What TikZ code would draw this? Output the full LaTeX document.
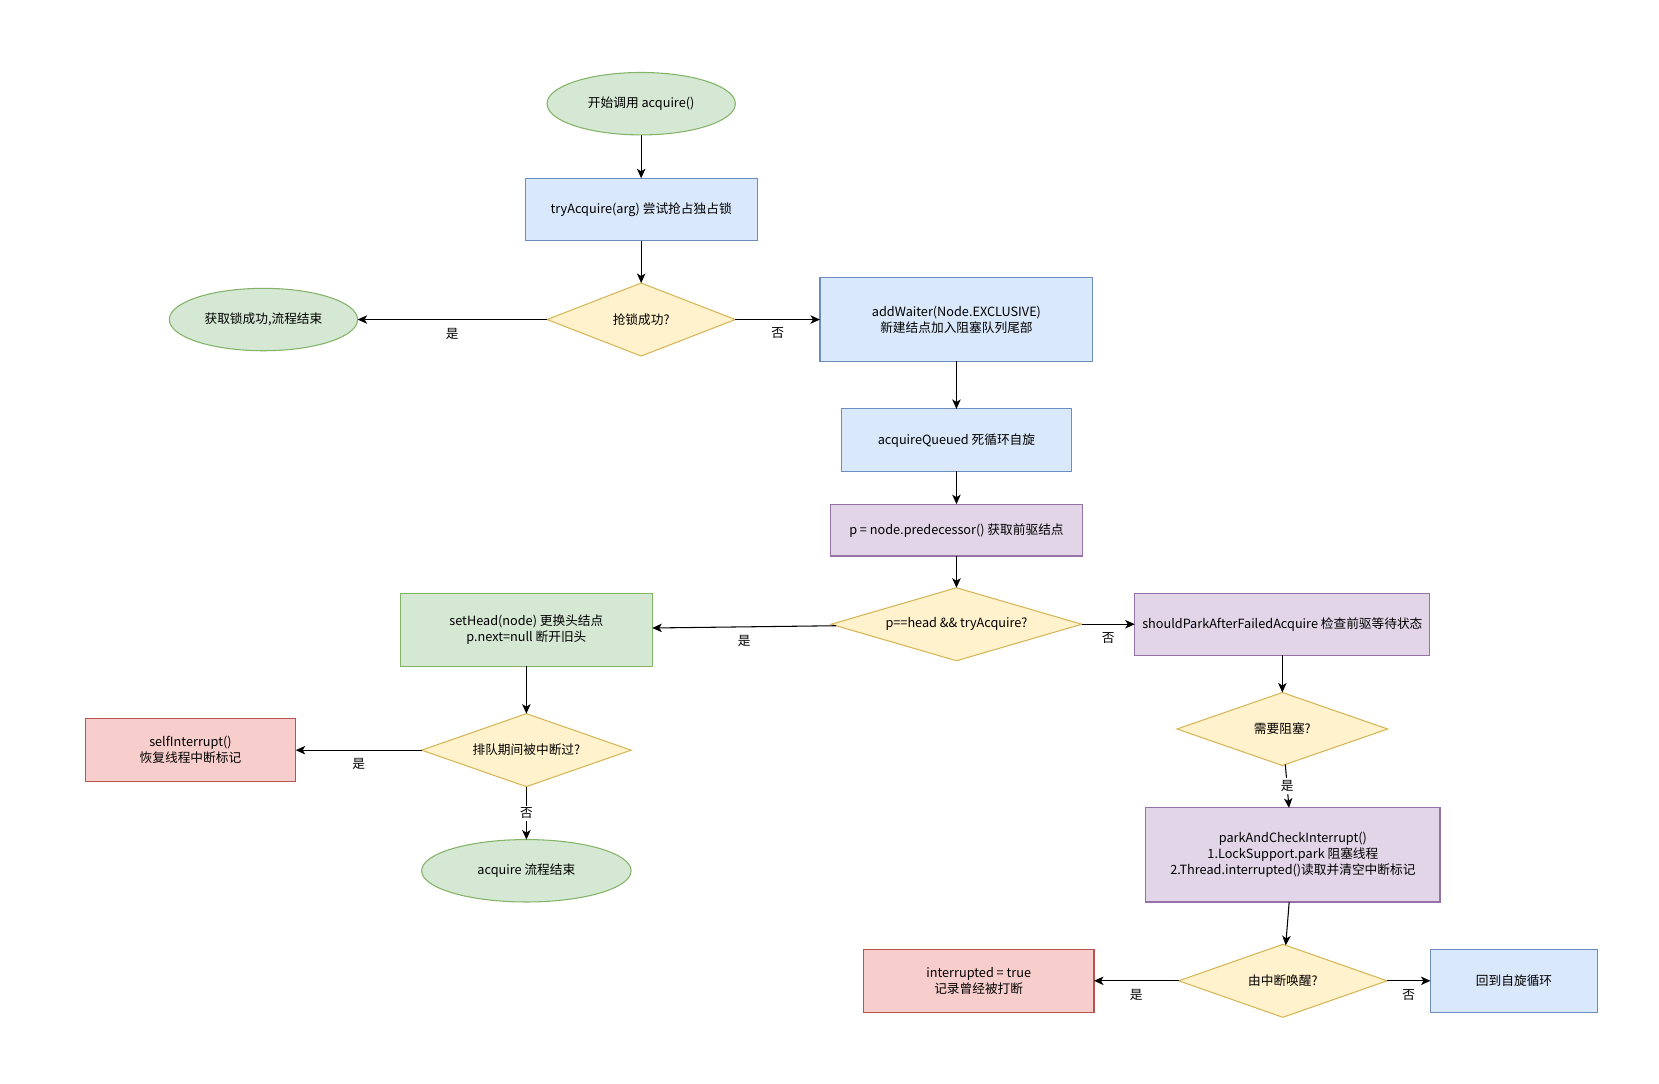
\documentclass[tikz,border=0pt]{standalone}
\usepackage{fontspec}
\setmainfont{Noto Sans CJK SC}
\usetikzlibrary{positioning,shapes.geometric,arrows.meta}
\definecolor{greenfill}{HTML}{D5E8D4}
\definecolor{greenline}{HTML}{82B366}
\definecolor{bluefill}{HTML}{DAE8FC}
\definecolor{blueline}{HTML}{6C8EBF}
\definecolor{yellowfill}{HTML}{FFF2CC}
\definecolor{yellowline}{HTML}{D6B656}
\definecolor{purplefill}{HTML}{E1D5E7}
\definecolor{purpleline}{HTML}{9673A6}
\definecolor{redfill}{HTML}{F8CECC}
\definecolor{redline}{HTML}{B85450}
\begin{document}
\begin{tikzpicture}[font=\fontsize{6}{7.5}\selectfont, line width=0.5pt, outer sep=0pt,
  >={Stealth[length=4.5pt,width=4pt,inset=1.2pt]},
  term/.style = {draw=greenline, fill=greenfill, ellipse, inner sep=0pt},
  bluebox/.style = {draw=blueline, fill=bluefill, rectangle, align=center},
  greenbox/.style = {draw=greenline, fill=greenfill, rectangle, align=center},
  purplebox/.style = {draw=purpleline, fill=purplefill, rectangle, align=center},
  redbox/.style = {draw=redline, fill=redfill, rectangle, align=center},
  cond/.style = {draw=yellowline, fill=yellowfill, diamond, inner sep=0pt, minimum height=34.5pt, aspect=2.9},
  lab/.style = {pos=.5, below=4pt, inner sep=0pt},
  midlab/.style = {pos=.5, fill=white, inner sep=1pt}]
\useasboundingbox (0,0) rectangle (784pt,-512pt);
% main line
\node[term, minimum width=89pt, minimum height=29.5pt] (start) at (303pt,-49pt) {开始调用 acquire()};
\node[bluebox, minimum width=109.5pt, minimum height=29.5pt] (try) [below=20.5pt of start] {tryAcquire(arg) 尝试抢占独占锁};
\node[cond, minimum width=89pt, aspect=2.6] (grab) [below=20pt of try] {抢锁成功?};
\node[term, minimum width=89pt, minimum height=29.5pt] (done) [left=89.5pt of grab] {获取锁成功,流程结束};
\node[bluebox, minimum width=129pt, minimum height=39.5pt] (addw) [right=40pt of grab] {addWaiter(Node.EXCLUSIVE)\\新建结点加入阻塞队列尾部};
\node[bluebox, minimum width=109pt, minimum height=29.5pt] (queued) [below=22.5pt of addw] {acquireQueued 死循环自旋};
\node[purplebox, minimum width=119pt, minimum height=24.5pt] (pred) [below=15.5pt of queued] {p = node.predecessor() 获取前驱结点};
\node[cond, minimum width=118.5pt, aspect=3.4] (head) [below=15pt of pred] {p==head \&\& tryAcquire?};
% left branch
\node[greenbox, minimum width=119pt, minimum height=34.5pt] (sethead) [left=84.5pt of head, yshift=-2.5pt] {setHead(node) 更换头结点\\p.next=null 断开旧头};
\node[cond, minimum width=99pt] (intq) [below=22.5pt of sethead] {排队期间被中断过?};
\node[redbox, minimum width=99.5pt, minimum height=29.5pt] (self) [left=59.5pt of intq] {selfInterrupt()\\恢复线程中断标记};
\node[term, minimum width=99pt, minimum height=29.5pt] (finish) [below=25pt of intq] {acquire 流程结束};
% right branch
\node[purplebox, minimum width=139.5pt, minimum height=29.5pt] (should) [right=25pt of head] {shouldParkAfterFailedAcquire 检查前驱等待状态};
\node[cond, minimum width=99.5pt] (block) [below=17.5pt of should] {需要阻塞?};
\node[purplebox, minimum width=139pt, minimum height=44.5pt] (park) [below=20pt of block, xshift=5pt] {parkAndCheckInterrupt()\\1.LockSupport.park 阻塞线程\\2.Thread.interrupted()读取并清空中断标记};
\node[cond, minimum width=98.5pt] (wake) [below=20pt of park, xshift=-4.75pt] {由中断唤醒?};
\node[redbox, minimum width=109pt, minimum height=29.5pt] (flag) [left=40pt of wake] {interrupted = true\\记录曾经被打断};
\node[bluebox, minimum width=79pt, minimum height=29.5pt] (back) [right=20.5pt of wake] {回到自旋循环};
% edges
\draw[->] (start) -- (try);
\draw[->] (try) -- (grab);
\draw[->] (grab) -- node[lab] {是} (done);
\draw[->] (grab) -- node[lab] {否} (addw);
\draw[->] (addw) -- (queued);
\draw[->] (queued) -- (pred);
\draw[->] (pred) -- (head);
\draw[->] (head) -- node[lab] {是} (sethead);
\draw[->] (head) -- node[lab] {否} (should);
\draw[->] (sethead) -- (intq);
\draw[->] (intq) -- node[lab] {是} (self);
\draw[->] (intq) -- node[midlab] {否} (finish);
\draw[->] (should) -- (block);
\draw[->] (block) -- node[midlab] {是} (park);
\draw[->] (park) -- (wake);
\draw[->] (wake) -- node[lab] {是} (flag);
\draw[->] (wake) -- node[lab] {否} (back);
\end{tikzpicture}
\end{document}
